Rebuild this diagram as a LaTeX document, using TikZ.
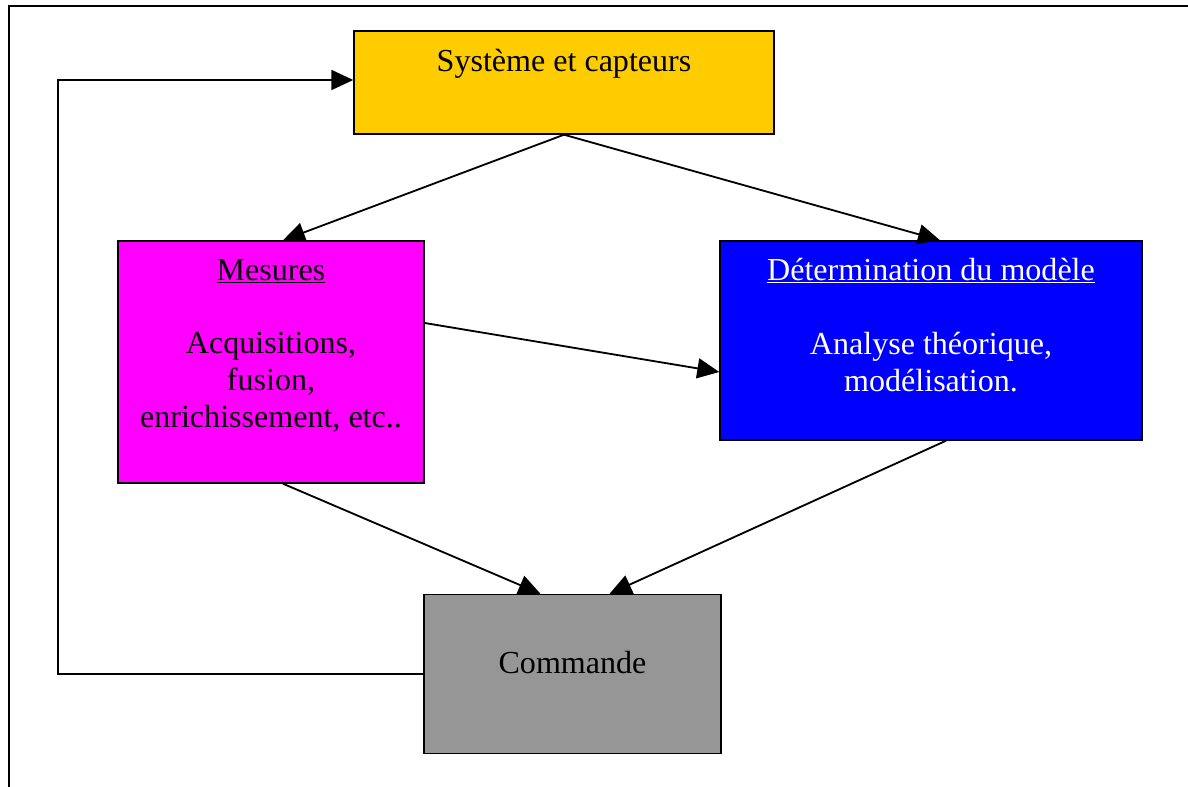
\documentclass[tikz,border=0pt]{standalone}
\usepackage{fontspec}
\setmainfont{Liberation Serif}
\usetikzlibrary{arrows.meta,calc}
\definecolor{jaune}{HTML}{FFCC00}
\definecolor{rose}{HTML}{FF00FF}
\definecolor{bleu}{HTML}{0000FF}
\definecolor{gris}{HTML}{969696}
\tikzset{
	bloc/.style={draw=black,line width=1pt,inner sep=0pt},
	txt/.style={anchor=base,align=center,inner sep=0pt,font=\fontsize{22.8}{26}\selectfont},
	fleche/.style={line width=1.3pt,-{Triangle[length=0.55cm,width=0.5cm]}}
}
\begin{document}
\begin{tikzpicture}[x=0.025cm,y=-0.025cm]
		\useasboundingbox (0,0) rectangle (1188,787);
		\draw[line width=1.4pt] (9,787) -- (9,6) -- (1188,6);
		\node[bloc,fill=jaune,minimum width=420*0.025cm,minimum height=103*0.025cm] (sys) at (564,82.5) {};
		\node[bloc,fill=rose,minimum width=306*0.025cm,minimum height=242*0.025cm] (mes) at (271,362) {};
		\node[bloc,fill=bleu,minimum width=422*0.025cm,minimum height=199*0.025cm] (det) at (931,340.5) {};
		\node[bloc,fill=gris,minimum width=297*0.025cm,minimum height=159*0.025cm] (cmd) at (572.5,674) {};
		% textes (base = derniere ligne)
		\node[txt] (sysT) at (564,72) {Système et capteurs};
		\node[txt] (mesT) at (271,280) {\underline{Mesures}};
		\node[txt] (mesB) at (271,427) {Acquisitions,\\fusion,\\enrichissement, etc..};
		\node[txt,text=white] (detT) at (931,280) {\underline{Détermination du modèle}};
		\node[txt,text=white] (detB) at (931,391) {Analyse théorique,\\modélisation.};
		\node[txt] (cmdT) at (572.5,673) {Commande};
		\coordinate (ret) at (58,80);
		\draw[fleche] (sys.south) -- ($(mes.north)+(12,0)$);
		\draw[fleche] (sys.south) -- ($(det.north)+(9,0)$);
		\draw[fleche] ($(mes.east)+(0,-39)$) -- ($(det.west)+(0,31.5)$);
		\draw[fleche] ($(mes.south)+(12,0)$) -- ($(cmd.north)+(-32,0)$);
		\draw[fleche] ($(det.south)+(15,0)$) -- ($(cmd.north)+(37,0)$);
		\draw[fleche] (cmd.west) -| (ret) -- (sys.west |- ret);
\end{tikzpicture}
\end{document}
